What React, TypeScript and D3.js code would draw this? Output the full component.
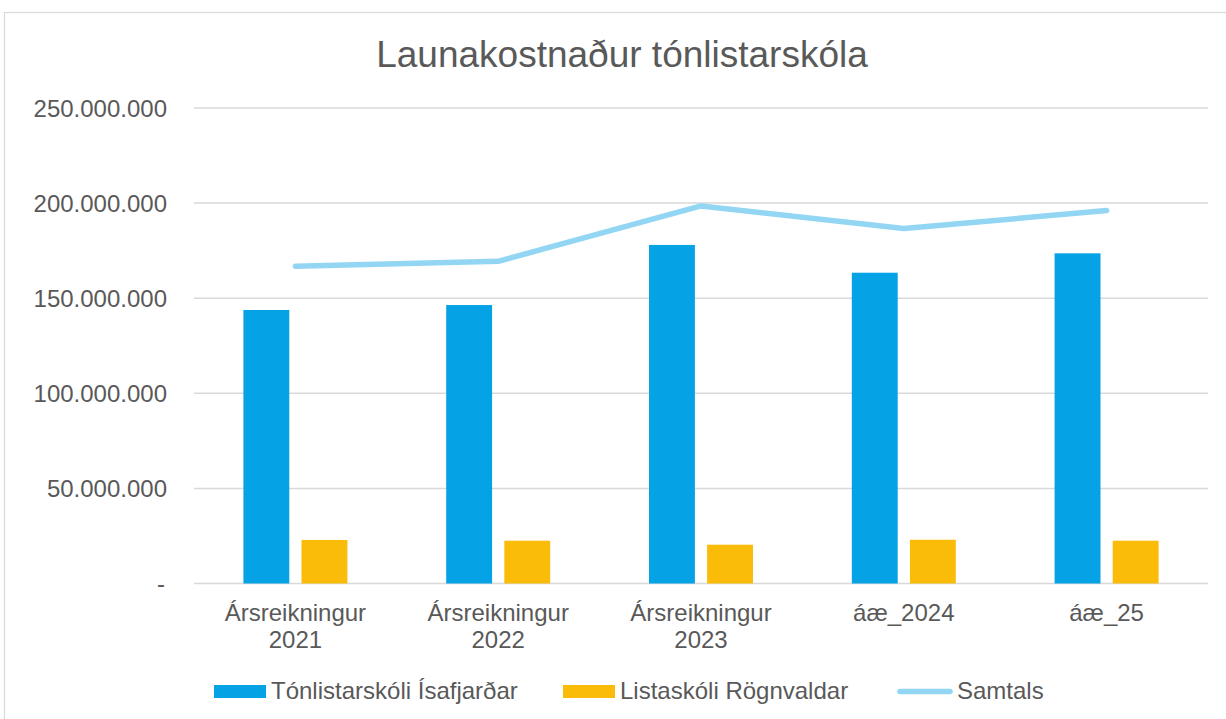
import React, { useMemo } from "react";
import * as d3 from "d3";

const categories = [
  ["Ársreikningur", "2021"],
  ["Ársreikningur", "2022"],
  ["Ársreikningur", "2023"],
  ["áæ_2024"],
  ["áæ_25"],
];
const categoryKeys = ["a2021", "a2022", "a2023", "a2024", "a2025"];

const seriesNames = ["Tónlistarskóli Ísafjarðar", "Listaskóli Rögnvaldar", "Samtals"];
const tonlistarskoli = [143.8e6, 146.4e6, 178.0e6, 163.4e6, 173.6e6];
const listaskoli = [22.9e6, 22.5e6, 20.4e6, 23.0e6, 22.5e6];
const samtals = [166.8e6, 169.4e6, 198.5e6, 186.6e6, 196.1e6];

const yTicks = [0, 50e6, 100e6, 150e6, 200e6, 250e6];

const WIDTH = 1226;
const HEIGHT = 719;
const MARGIN = { left: 194, right: 1208, top: 108, bottom: 583.5 };

const COLORS = ["#05A2E5", "#FBBC09", "#93D6F4"];
const TEXT = "#595959";
const GRID = "#D9D9D9";
const FONT = "'Liberation Sans', Arial, sans-serif";

const locale = d3.formatLocale({
  decimal: ",",
  thousands: ".",
  grouping: [3],
  currency: ["", ""],
});
const fmt = locale.format(",");

export default function App() {
  const x0 = useMemo(
    () => d3.scaleBand().domain(categoryKeys).range([MARGIN.left, MARGIN.right]),
    []
  );
  const bw = x0.bandwidth();
  const x1 = useMemo(
    () =>
      d3
        .scaleBand()
        .domain(["a", "b"])
        .range([bw / 2 - 52, bw / 2 + 52])
        .paddingInner(0.21),
    [bw]
  );
  const y = useMemo(
    () => d3.scaleLinear().domain([0, 250e6]).range([MARGIN.bottom, MARGIN.top]),
    []
  );

  const line = d3
    .line<number>()
    .x((_, i) => (x0(categoryKeys[i]) as number) + bw / 2)
    .y((d) => y(d));

  const legendItems = [
    { x: 214, textX: 271, kind: "rect", color: COLORS[0], name: seriesNames[0] },
    { x: 563, textX: 620, kind: "rect", color: COLORS[1], name: seriesNames[1] },
    { x: 898, textX: 957, kind: "line", color: COLORS[2], name: seriesNames[2] },
  ];

  return (
    <svg
      width={WIDTH}
      height={HEIGHT}
      style={{ position: "absolute", left: 0, top: 0, background: "#fff" }}
      fontFamily={FONT}
    >
      <rect x={4.5} y={12.5} width={1240} height={740} fill="#fff" stroke={GRID} strokeWidth={1.2} />

      <text x={622} y={67} textAnchor="middle" fontSize={37} fill={TEXT}>
        Launakostnaður tónlistarskóla
      </text>

      {yTicks.map((t) => (
        <g key={t}>
          <line
            x1={MARGIN.left}
            x2={MARGIN.right}
            y1={y(t)}
            y2={y(t)}
            stroke={GRID}
            strokeWidth={1.5}
          />
          <text
            x={t === 0 ? 165 : 167}
            y={y(t) + 8.6}
            textAnchor="end"
            fontSize={24}
            fill={TEXT}
          >
            {t === 0 ? "-" : fmt(t)}
          </text>
        </g>
      ))}

      {categoryKeys.map((k, i) => {
        const gx = x0(k) as number;
        return (
          <g key={k}>
            <rect
              x={gx + (x1("a") as number)}
              y={y(tonlistarskoli[i])}
              width={x1.bandwidth()}
              height={y(0) - y(tonlistarskoli[i])}
              fill={COLORS[0]}
            />
            <rect
              x={gx + (x1("b") as number)}
              y={y(listaskoli[i])}
              width={x1.bandwidth()}
              height={y(0) - y(listaskoli[i])}
              fill={COLORS[1]}
            />
            <text textAnchor="middle" fontSize={24} fill={TEXT}>
              {categories[i].map((l, j) => (
                <tspan key={j} x={gx + bw / 2} y={621 + j * 27}>
                  {l}
                </tspan>
              ))}
            </text>
          </g>
        );
      })}

      <path
        d={line(samtals) || ""}
        fill="none"
        stroke={COLORS[2]}
        strokeWidth={5.5}
        strokeLinecap="round"
        strokeLinejoin="round"
      />

      {legendItems.map((it) => (
        <g key={it.name}>
          {it.kind === "rect" ? (
            <rect x={it.x} y={685} width={52} height={13} fill={it.color} />
          ) : (
            <line
              x1={it.x + 2}
              x2={it.x + 52}
              y1={691.5}
              y2={691.5}
              stroke={it.color}
              strokeWidth={5.5}
              strokeLinecap="round"
            />
          )}
          <text x={it.textX} y={698.5} fontSize={24} fill={TEXT}>
            {it.name}
          </text>
        </g>
      ))}
    </svg>
  );
}
